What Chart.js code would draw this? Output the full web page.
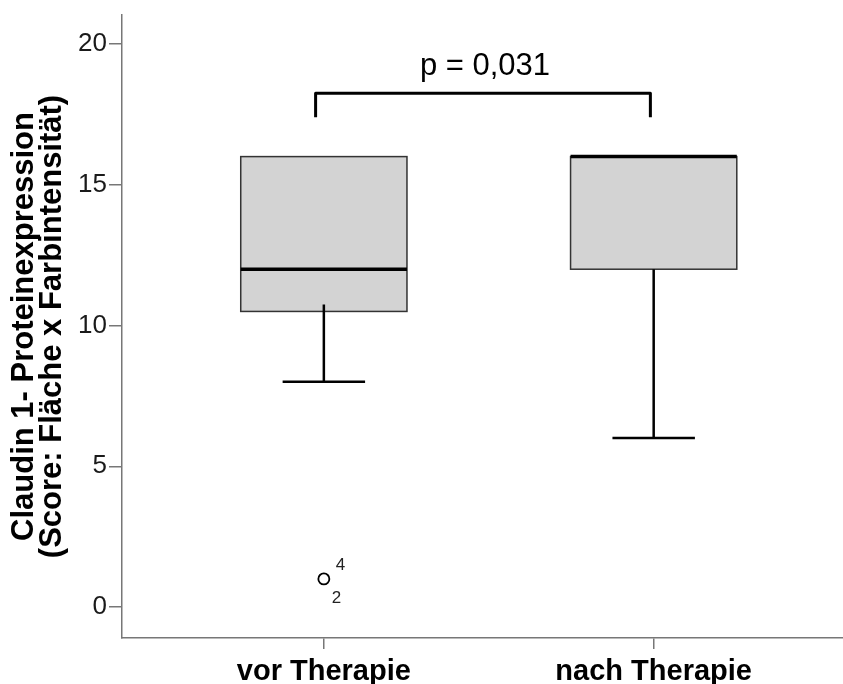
<!DOCTYPE html>
<html>
<head>
<meta charset="utf-8">
<script src="https://cdn.jsdelivr.net/npm/chart.js@4"></script>
<style>
  body { margin: 0; background: #fff; }
  #wrap { width: 843px; height: 684px; }
</style>
</head>
<body>
<div id="wrap"><canvas id="boxChart" width="843" height="684"></canvas></div>
<script>
"use strict";

// groups and box statistics
const groups = ["vor Therapie", "nach Therapie"];
const lowerWhisker = [8, 6];
const q1 = [10.5, 12];
const median = [12, 16];
const q3 = [16, 16];
const upperWhisker = [16, 16];
// the lower whisker stem of the first group runs a little into the box
const stemTop = [10.75, 12];

// outliers: group index (1-based), value, case numbers
const outlierGroup = [1];
const outlierValue = [1];
const outlierCases = [["4", "2"]];

const pLabel = "p = 0,031";
const yTicks = [0, 5, 10, 15, 20];

const fontFamily = "'Liberation Sans', Arial, sans-serif";

const outlierPoints = [];
for (let i = 0; i < outlierGroup.length; i++) {
  outlierPoints.push({ x: outlierGroup[i], y: outlierValue[i] });
}

// draws boxes, medians and whiskers from the scales
const boxPlugin = {
  id: "boxes",
  beforeDatasetsDraw(chart) {
    const ctx = chart.ctx;
    const xs = chart.scales.x;
    const ys = chart.scales.y;
    const halfBox = 0.252;
    const halfCap = 0.125;

    for (let i = 0; i < groups.length; i++) {
      const xc = xs.getPixelForValue(i + 1);
      const xl = xs.getPixelForValue(i + 1 - halfBox);
      const xr = xs.getPixelForValue(i + 1 + halfBox);
      const yq1 = ys.getPixelForValue(q1[i]);
      const yq3 = ys.getPixelForValue(q3[i]);

      ctx.save();
      //box
      ctx.fillStyle = "#d3d3d3";
      ctx.fillRect(xl, yq3, xr - xl, yq1 - yq3);
      ctx.strokeStyle = "#333";
      ctx.lineWidth = 1.5;
      ctx.strokeRect(xl, yq3, xr - xl, yq1 - yq3);

      //median
      ctx.strokeStyle = "#000";
      ctx.lineWidth = 3.5;
      ctx.beginPath();
      ctx.moveTo(xl, ys.getPixelForValue(median[i]));
      ctx.lineTo(xr, ys.getPixelForValue(median[i]));
      ctx.stroke();

      //whiskers
      ctx.lineWidth = 2.5;
      const cl = xs.getPixelForValue(i + 1 - halfCap);
      const cr = xs.getPixelForValue(i + 1 + halfCap);
      if (lowerWhisker[i] < q1[i]) {
        const yl = ys.getPixelForValue(lowerWhisker[i]);
        ctx.beginPath();
        ctx.moveTo(xc, ys.getPixelForValue(stemTop[i]));
        ctx.lineTo(xc, yl);
        ctx.moveTo(cl, yl);
        ctx.lineTo(cr, yl);
        ctx.stroke();
      }
      if (upperWhisker[i] > q3[i]) {
        const yu = ys.getPixelForValue(upperWhisker[i]);
        ctx.beginPath();
        ctx.moveTo(xc, yq3);
        ctx.lineTo(xc, yu);
        ctx.moveTo(cl, yu);
        ctx.lineTo(cr, yu);
        ctx.stroke();
      }
      ctx.restore();
    }
  },
  afterDraw(chart) {
    const ctx = chart.ctx;
    const xs = chart.scales.x;
    const ys = chart.scales.y;

    ctx.save();
    //case numbers next to outliers
    ctx.fillStyle = "#222";
    ctx.font = "17px " + fontFamily;
    ctx.textAlign = "left";
    ctx.textBaseline = "middle";
    for (let i = 0; i < outlierGroup.length; i++) {
      const px = xs.getPixelForValue(outlierGroup[i]);
      const py = ys.getPixelForValue(outlierValue[i]);
      ctx.fillText(outlierCases[i][0], px + 12, py - 14);
      ctx.fillText(outlierCases[i][1], px + 8, py + 19);
    }

    //significance bracket
    const bx1 = xs.getPixelForValue(0.975);
    const bx2 = xs.getPixelForValue(1.99);
    const byTop = ys.getPixelForValue(18.25);
    const byEnd = ys.getPixelForValue(17.4);
    ctx.strokeStyle = "#000";
    ctx.lineWidth = 3;
    ctx.lineJoin = "round";
    ctx.beginPath();
    ctx.moveTo(bx1, byEnd);
    ctx.lineTo(bx1, byTop);
    ctx.lineTo(bx2, byTop);
    ctx.lineTo(bx2, byEnd);
    ctx.stroke();

    ctx.fillStyle = "#000";
    ctx.font = "31px " + fontFamily;
    ctx.textAlign = "center";
    ctx.textBaseline = "alphabetic";
    ctx.fillText(pLabel, (bx1 + bx2) / 2 + 2, ys.getPixelForValue(18.9));
    ctx.restore();
  }
};

const config = {
  type: "scatter",
  data: {
    datasets: [
      {
        label: "Ausreißer",
        data: outlierPoints,
        pointStyle: "circle",
        pointRadius: 5.5,
        pointBorderWidth: 1.8,
        pointBorderColor: "#000",
        pointBackgroundColor: "#fff"
      }
    ]
  },
  options: {
    responsive: false,
    animation: false,
    layout: { autoPadding: false, padding: { top: 15, left: 0, right: 0, bottom: 0 } },
    plugins: {
      legend: { display: false },
      tooltip: { enabled: false }
    },
    scales: {
      x: {
        type: "linear",
        min: 0.388,
        max: 2.574,
        afterBuildTicks: (scale) => {
          scale.ticks = groups.map((g, i) => ({ value: i + 1 }));
        },
        afterFit: (scale) => {
          scale.height = 46;
        },
        ticks: {
          autoSkip: false,
          maxRotation: 0,
          padding: 6,
          color: "#000",
          font: { family: fontFamily, size: 29, weight: "bold" },
          callback: (v) => groups[v - 1]
        },
        grid: {
          drawOnChartArea: false,
          tickLength: 11,
          color: "#777",
          lineWidth: 1.5
        },
        border: { color: "#777", width: 1.5 }
      },
      y: {
        min: -1.1,
        max: 21.03,
        afterBuildTicks: (scale) => {
          scale.ticks = yTicks.map((v) => ({ value: v }));
        },
        afterFit: (scale) => {
          scale.width = 122;
        },
        ticks: {
          padding: 2,
          color: "#1a1a1a",
          font: { family: fontFamily, size: 26, lineHeight: 1 }
        },
        grid: {
          drawOnChartArea: false,
          tickLength: 13,
          color: "#777",
          lineWidth: 1.5
        },
        border: { color: "#777", width: 1.5 },
        title: {
          display: true,
          text: ["Claudin 1- Proteinexpression", "(Score: Fläche x Farbintensität)"],
          color: "#000",
          font: { family: fontFamily, size: 31, weight: "bold", lineHeight: 0.92 },
          padding: { top: 10, bottom: 0 }
        }
      }
    }
  },
  plugins: [boxPlugin]
};

const boxChart = new Chart(document.getElementById("boxChart"), config);
</script>
</body>
</html>
